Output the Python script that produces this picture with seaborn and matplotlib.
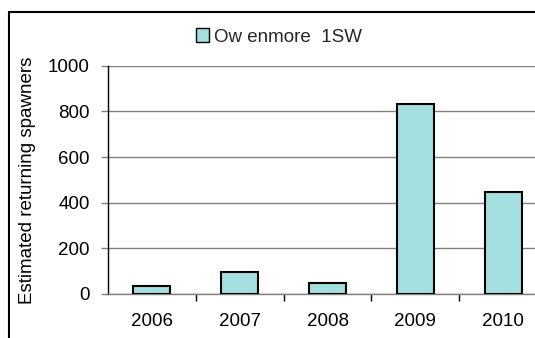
import matplotlib
matplotlib.use("Agg")
import matplotlib.pyplot as plt
from matplotlib.lines import Line2D
from matplotlib.patches import Patch
import seaborn as sns
import pandas as pd

# data
years = ["2006", "2007", "2008", "2009", "2010"]
spawners = [33, 96, 50, 831, 445]
series_name = "Ow enmore  1SW"

sns.set_theme(style="white")
plt.rcParams["font.family"] = ["Liberation Sans", "DejaVu Sans"]

bar_color = "#a4dfdf"
grid_color = "#808080"
fs = 13.5

df = pd.DataFrame({"year": years, "spawners": spawners})

W, H = 535, 338
fig = plt.figure(figsize=(W / 100, H / 100), dpi=100)
# axes box in pixel terms: left 108, right ~547 (cropped), y0 at 294, y1000 at 65.7
ax = fig.add_axes([108 / W, (H - 294) / H, (547 - 108) / W, (294 - 65.7) / H])

sns.barplot(data=df, x="year", y="spawners", ax=ax, color=bar_color,
            width=0.42, edgecolor="black", linewidth=1.5, saturation=1, zorder=3)

ax.set_xlim(-0.5, len(years) - 0.5)
ax.set_ylim(0, 1000)
ax.set_yticks(range(0, 1001, 200))
ax.yaxis.grid(True, color=grid_color, linewidth=1.0)
ax.set_axisbelow(True)

for side in ["top", "right"]:
    ax.spines[side].set_visible(False)
ax.spines["left"].set_color("black")
ax.spines["left"].set_linewidth(1.0)
ax.spines["bottom"].set_color(grid_color)
ax.spines["bottom"].set_linewidth(1.0)

# labels centred on categories, tick marks on the boundaries
ax.set_xticks(range(len(years)))
ax.set_xticklabels(years)
ax.set_xticks([i + 0.5 for i in range(len(years) - 1)], minor=True)
ax.tick_params(axis="x", which="major", length=0, pad=14, labelsize=fs, colors="black")
ax.tick_params(axis="x", which="minor", bottom=True, length=5, width=1, color="black")
ax.tick_params(axis="y", left=True, length=5, width=1, color=grid_color, pad=8,
               labelsize=fs, labelcolor="black")

ax.set_xlabel("")
ax.set_ylabel("Estimated returning spawners", fontsize=fs, color="black", labelpad=9)

handle = Patch(facecolor=bar_color, edgecolor="black", linewidth=1.0)
fig.legend([handle], [series_name], loc="center", bbox_to_anchor=(279 / W, 1 - 37 / H),
           frameon=False, fontsize=fs, handlelength=0.7, handleheight=0.7,
           handletextpad=0.3, borderpad=0)

# outer chart frame (cropped on the right and bottom)
fig.add_artist(Line2D([8.5 / W, 8.5 / W], [0, 1 - 12 / H], transform=fig.transFigure,
                      color="black", linewidth=1.5))
fig.add_artist(Line2D([8.5 / W, 1], [1 - 12 / H, 1 - 12 / H], transform=fig.transFigure,
                      color="black", linewidth=1.5))

fig.savefig("out.png", dpi=100)
